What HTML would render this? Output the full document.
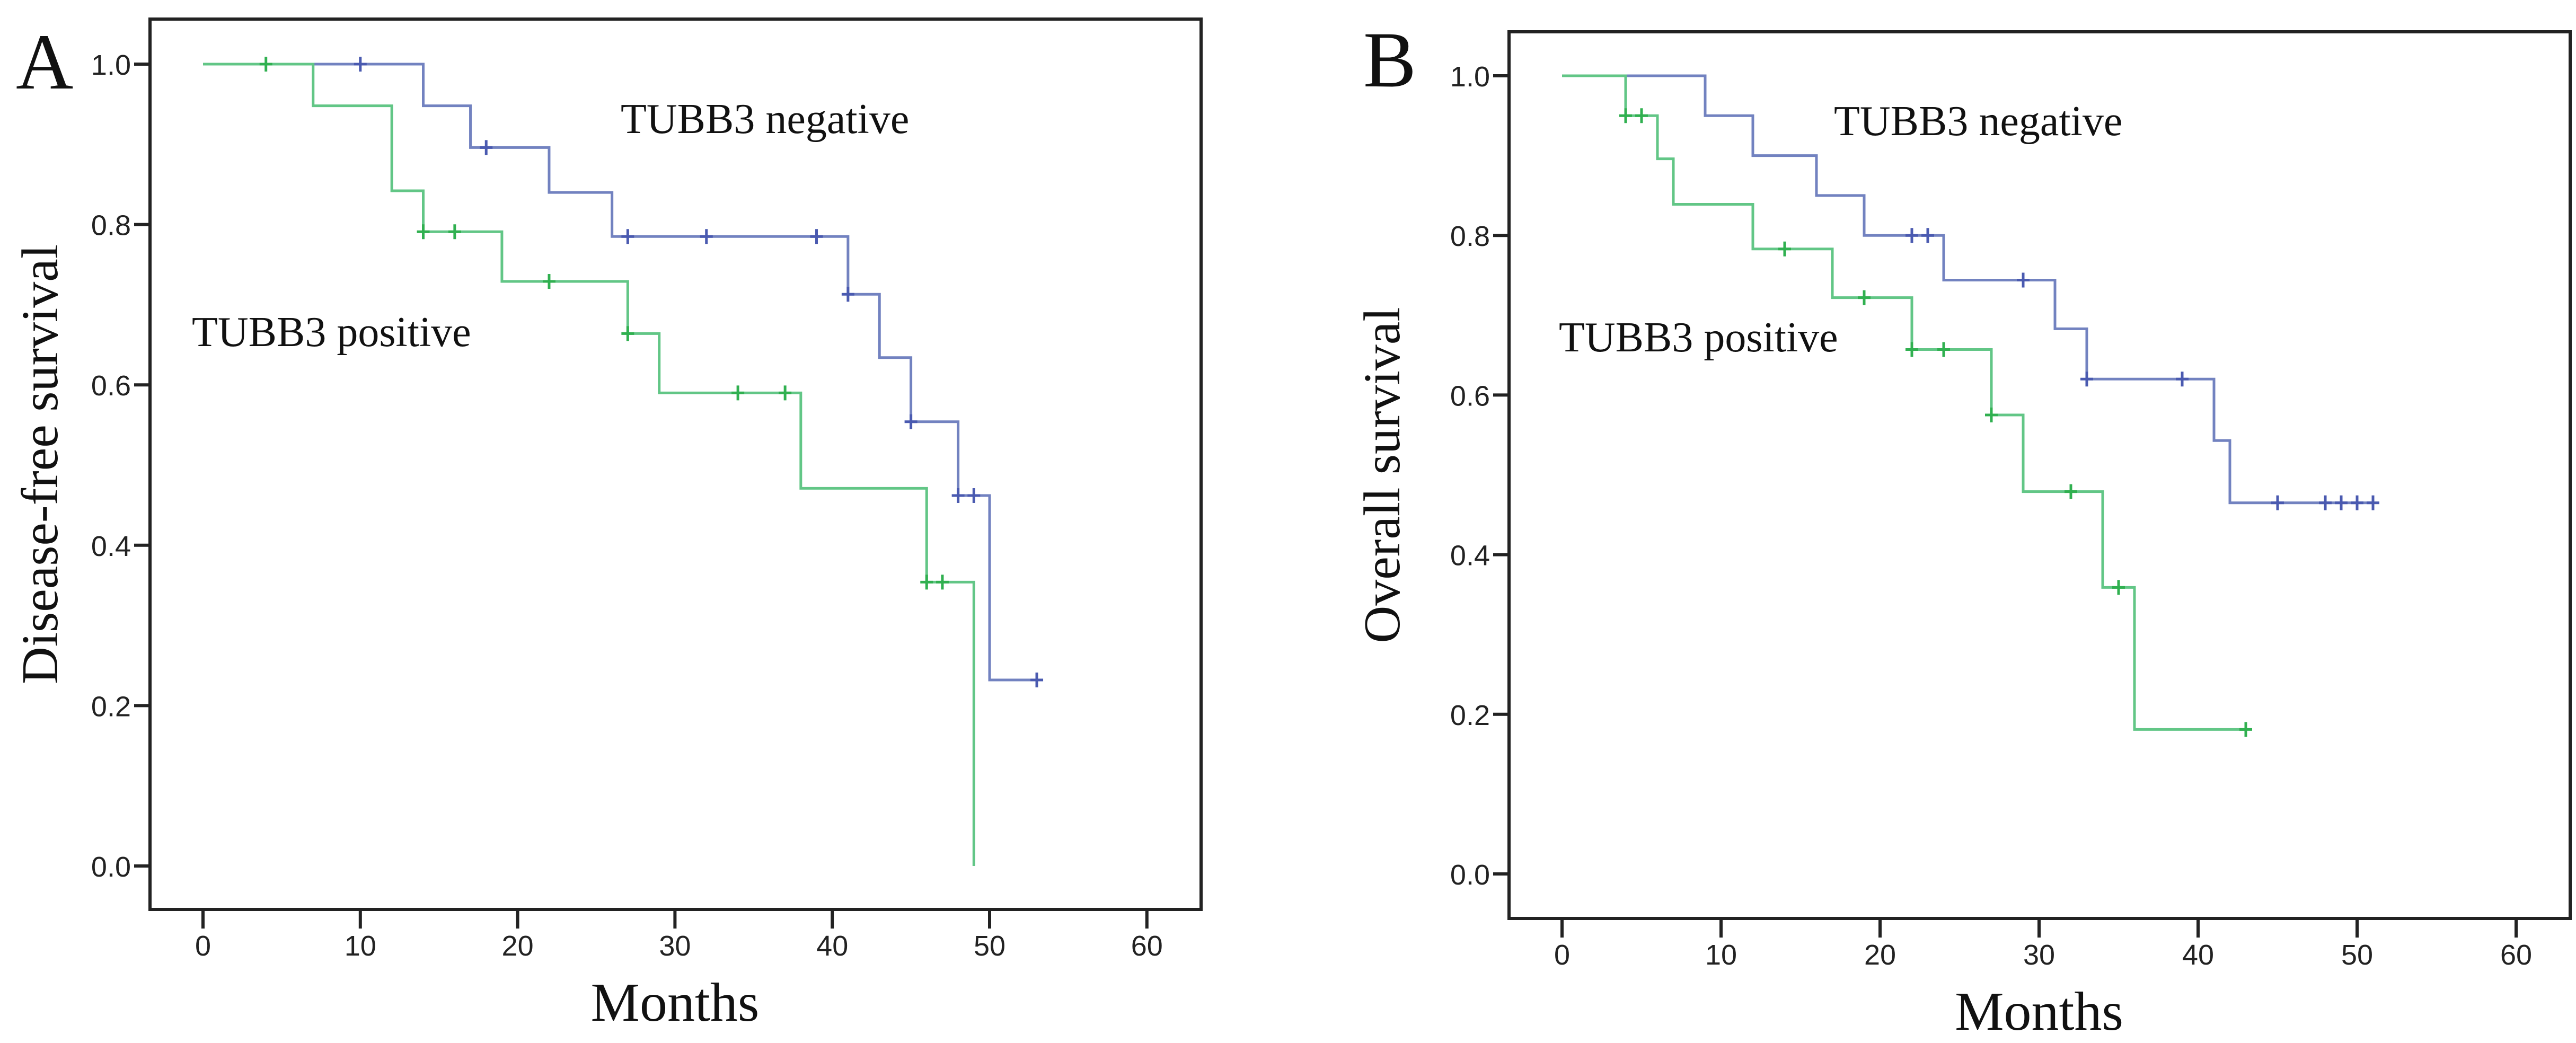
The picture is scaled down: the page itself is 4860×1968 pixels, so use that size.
<!DOCTYPE html>
<html><head><meta charset="utf-8"><style>
html,body{margin:0;padding:0;background:#fff;}
svg{display:block;}
.tick{font-family:"Liberation Sans",Arial,sans-serif;font-size:54px;fill:#222;}
.ser{font-family:"Liberation Serif","Times New Roman",serif;fill:#111;}
</style></head><body>
<svg id="fig" width="4860" height="1968" viewBox="0 0 4860 1968" xmlns="http://www.w3.org/2000/svg"></svg>
<script>
// ---------- Panel A data (Disease-free survival) ----------
const aNegTimes = [0, 14, 17, 22, 26, 41, 43, 45, 48, 50];
const aNegSurv  = [1.0, 0.948, 0.896, 0.840, 0.785, 0.713, 0.634, 0.554, 0.462, 0.232];
const aNegEnd = 53;
const aNegCensT = [10, 18, 27, 32, 39, 41, 45, 48, 49, 53];
const aNegCensS = [1.0, 0.896, 0.785, 0.785, 0.785, 0.713, 0.554, 0.462, 0.462, 0.232];
const aPosTimes = [0, 7, 12, 14, 19, 27, 29, 38, 46, 49];
const aPosSurv  = [1.0, 0.948, 0.842, 0.791, 0.729, 0.664, 0.590, 0.471, 0.354, 0.0];
const aPosEnd = 49;
const aPosCensT = [4, 14, 16, 22, 27, 34, 37, 46, 47];
const aPosCensS = [1.0, 0.791, 0.791, 0.729, 0.664, 0.590, 0.590, 0.354, 0.354];
// ---------- Panel B data (Overall survival) ----------
const bNegTimes = [0, 9, 12, 16, 19, 24, 31, 33, 41, 42];
const bNegSurv  = [1.0, 0.95, 0.90, 0.85, 0.80, 0.744, 0.683, 0.620, 0.543, 0.465];
const bNegEnd = 51;
const bNegCensT = [22, 23, 29, 33, 39, 45, 48, 49, 50, 51];
const bNegCensS = [0.80, 0.80, 0.744, 0.620, 0.620, 0.465, 0.465, 0.465, 0.465, 0.465];
const bPosTimes = [0, 4, 6, 7, 12, 17, 22, 27, 29, 34, 36];
const bPosSurv  = [1.0, 0.95, 0.896, 0.839, 0.783, 0.722, 0.657, 0.575, 0.479, 0.359, 0.181];
const bPosEnd = 43;
const bPosCensT = [4, 5, 14, 19, 22, 24, 27, 32, 35, 43];
const bPosCensS = [0.95, 0.95, 0.783, 0.722, 0.657, 0.657, 0.575, 0.479, 0.359, 0.181];
// ---------- tick labels ----------
const xTickVals = [0, 10, 20, 30, 40, 50, 60];
const yTickVals = [0.0, 0.2, 0.4, 0.6, 0.8, 1.0];
const yTickLabels = ["0.0", "0.2", "0.4", "0.6", "0.8", "1.0"];

const NS = "http://www.w3.org/2000/svg";
const svg = document.getElementById('fig');
function mk(tag, attrs, parent){const e=document.createElementNS(NS,tag);for(const k in attrs)e.setAttribute(k,attrs[k]);(parent||svg).appendChild(e);return e;}

function panel(cfg){
  const g = mk('g',{});
  
  
  const X = t => cfg.x0 + t*cfg.px;
  const Y = v => cfg.y0 - v*cfg.py;
  // frame
  const fr = mk('rect',{x:cfg.fl,y:cfg.ft,width:cfg.fr-cfg.fl,height:cfg.fb-cfg.ft,fill:'none',stroke:'#222','stroke-width':6},g);
  
  
  // y ticks
  yTickVals.forEach((v,i)=>{
    const l = mk('line',{x1:cfg.fl-30,x2:cfg.fl,y1:Y(v),y2:Y(v),stroke:'#222','stroke-width':6},g);
    
    
    const t = mk('text',{x:cfg.fl-36,y:Y(v)+20,'text-anchor':'end',class:'tick'},g);
    t.textContent = yTickLabels[i];
    
    
  });
  xTickVals.forEach(v=>{
    const l = mk('line',{x1:X(v),x2:X(v),y1:cfg.fb,y2:cfg.fb+36,stroke:'#222','stroke-width':6},g);
    
    
    const t = mk('text',{x:X(v),y:cfg.fb+87,'text-anchor':'middle',class:'tick'},g);
    t.textContent = String(v);
    
    
  });
  // series
  cfg.series.forEach(s=>{
    let d = 'M'+X(s.times[0])+','+Y(s.surv[0]);
    for(let i=1;i<s.times.length;i++){
      d += ' H'+X(s.times[i])+' V'+Y(s.surv[i]);
    }
    d += ' H'+X(s.end);
    const p = mk('path',{d:d,fill:'none',stroke:s.color,'stroke-width':5},g);
    
    
    s.ct.forEach((t,i)=>{
      const c = mk('path',{d:'M'+(X(t)-12)+','+Y(s.cs[i])+' h24 M'+X(t)+','+(Y(s.cs[i])-14)+' v28',stroke:s.mark,'stroke-width':5,fill:'none'},g);
      
      
    });
  });
  // labels
  const lt = mk('text',{x:cfg.lx,y:cfg.ly,class:'ser','font-size':150},g);
  lt.textContent = cfg.letter;
  
  
  const yt = mk('text',{x:0,y:0,class:'ser','font-size':98,'text-anchor':'middle',transform:'translate('+cfg.ytx+','+((cfg.ft+cfg.fb)/2)+') rotate(-90)'},g);
  yt.textContent = cfg.ytitle;
  
  
  const xt = mk('text',{x:(X(0)+X(60))/2,y:cfg.fb+210,class:'ser','font-size':104,'text-anchor':'middle'},g);
  xt.textContent = 'Months';
  
  
  const n = mk('text',{x:cfg.negx,y:cfg.negy,class:'ser','font-size':80},g);
  n.textContent = 'TUBB3 negative';
  
  
  const q = mk('text',{x:cfg.posx,y:cfg.posy,class:'ser','font-size':80},g);
  q.textContent = 'TUBB3 positive';
  
  
}
const BLUE='#7282c0', GREEN='#62c686';
panel({id:'panel-a',letter:'A',ytitle:'Disease-free survival',x0:383,px:29.68,y0:1634,py:1513,
  fl:283,fr:2266,ft:36,fb:1716,lx:30,ly:167,ytx:108,negx:1171,negy:251,posx:362,posy:653,
  series:[
   {name:'a-negative',times:aNegTimes,surv:aNegSurv,end:aNegEnd,ct:aNegCensT,cs:aNegCensS,color:BLUE,mark:'#4a5ab0'},
   {name:'a-positive',times:aPosTimes,surv:aPosSurv,end:aPosEnd,ct:aPosCensT,cs:aPosCensS,color:GREEN,mark:'#30b050'}]});
panel({id:'panel-b',letter:'B',ytitle:'Overall survival',x0:2947,px:30,y0:1649,py:1506,
  fl:2847,fr:4849,ft:60,fb:1733,lx:2572,ly:163,ytx:2640,negx:3460,negy:255,posx:2941,posy:663,
  series:[
   {name:'b-negative',times:bNegTimes,surv:bNegSurv,end:bNegEnd,ct:bNegCensT,cs:bNegCensS,color:BLUE,mark:'#4a5ab0'},
   {name:'b-positive',times:bPosTimes,surv:bPosSurv,end:bPosEnd,ct:bPosCensT,cs:bPosCensS,color:GREEN,mark:'#30b050'}]});
</script>
</body></html>
